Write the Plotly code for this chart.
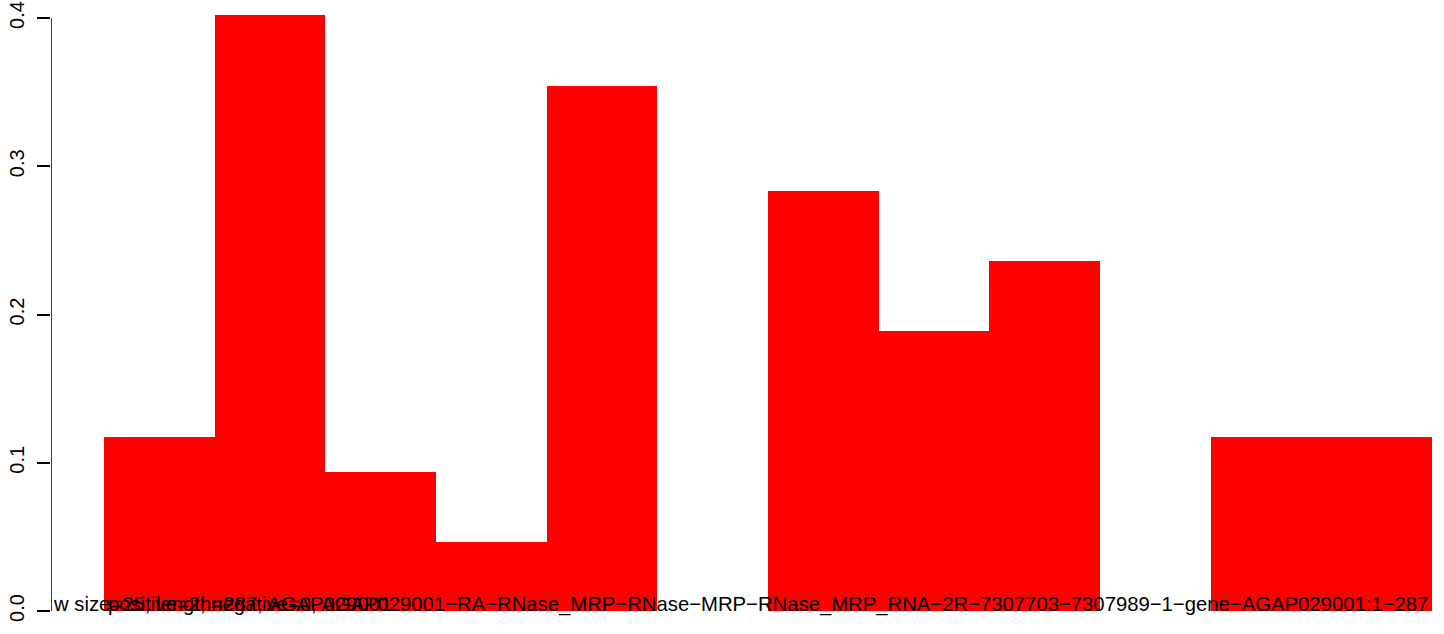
import plotly.graph_objects as go

# Data
bar_values = [0.1174, 0.4020, 0.0938, 0.0465, 0.3540, 0.0, 0.2833, 0.1889, 0.2361, 0.0, 0.1174, 0.1174]
bar_positions = [i + 0.5 for i in range(len(bar_values))]
y_tick_vals = [0.0, 0.1, 0.2, 0.3, 0.4]
y_tick_text = ["0.0", "0.1", "0.2", "0.3", "0.4"]
label_left = "w size=25, length=287, AGAP029001"
label_center = ("positive=2, negative=0, AGAP029001\u2212RA\u2212RNase_MRP\u2212RNase\u2212MRP\u2212"
                "RNase_MRP_RNA\u22122R\u22127307703\u22127307989\u22121\u2212gene\u2212AGAP029001:1\u2212287")

FONT = "Liberation Sans, Arial, Helvetica, sans-serif"
LABEL_SIZE = 20.3

W, H = 1444, 634
ML = 51
px_per_bar = 110.67
bar0_px = 104
x_left = (ML - bar0_px) / px_per_bar
x_right = x_left + (W - ML) / px_per_bar

y0_px, y04_px = 611, 18
unit = (y0_px - y04_px) / 0.4
y_top = 0.4 + y04_px / unit
y_bot = -(H - y0_px) / unit

fig = go.Figure()
fig.add_trace(go.Bar(
    x=bar_positions, y=bar_values, width=1.0,
    marker=dict(color="#FF0000", line=dict(width=0)),
    hoverinfo="skip",
))

fig.update_layout(
    width=W, height=H,
    margin=dict(l=ML, r=0, t=0, b=0),
    paper_bgcolor="white", plot_bgcolor="white",
    showlegend=False,
    bargap=0,
    font=dict(family=FONT, size=20, color="black"),
    xaxis=dict(range=[x_left, x_right], visible=False, fixedrange=True),
    yaxis=dict(
        range=[y_bot, y_top], showgrid=False, zeroline=False, showline=False,
        tickmode="array", tickvals=y_tick_vals, ticktext=y_tick_text,
        ticks="outside", ticklen=13, tickwidth=1.5, tickcolor="black",
        tickangle=-90, tickfont=dict(family=FONT, size=20, color="black"),
        ticklabelstandoff=5, ticklabeloverflow="allow",
        automargin=False, fixedrange=True,
    ),
)

# R-style y axis line spanning only the tick range
fig.add_shape(type="line", xref="x", yref="y",
              x0=x_left, x1=x_left, y0=y_tick_vals[0], y1=y_tick_vals[-1],
              line=dict(color="black", width=1.5))

label_y = (y0_px - 604) / unit
fig.add_annotation(x=x_left, y=label_y, xref="x", yref="y", text=label_left,
                   showarrow=False, xanchor="left", yanchor="middle",
                   font=dict(family=FONT, size=LABEL_SIZE, color="black"))
fig.add_annotation(x=len(bar_values) / 2, y=label_y, xref="x", yref="y", text=label_center,
                   showarrow=False, xanchor="center", yanchor="middle",
                   font=dict(family=FONT, size=LABEL_SIZE, color="black"))

fig.write_html("out.html", config={"displayModeBar": False},
               post_script="document.body.style.margin='0';")
